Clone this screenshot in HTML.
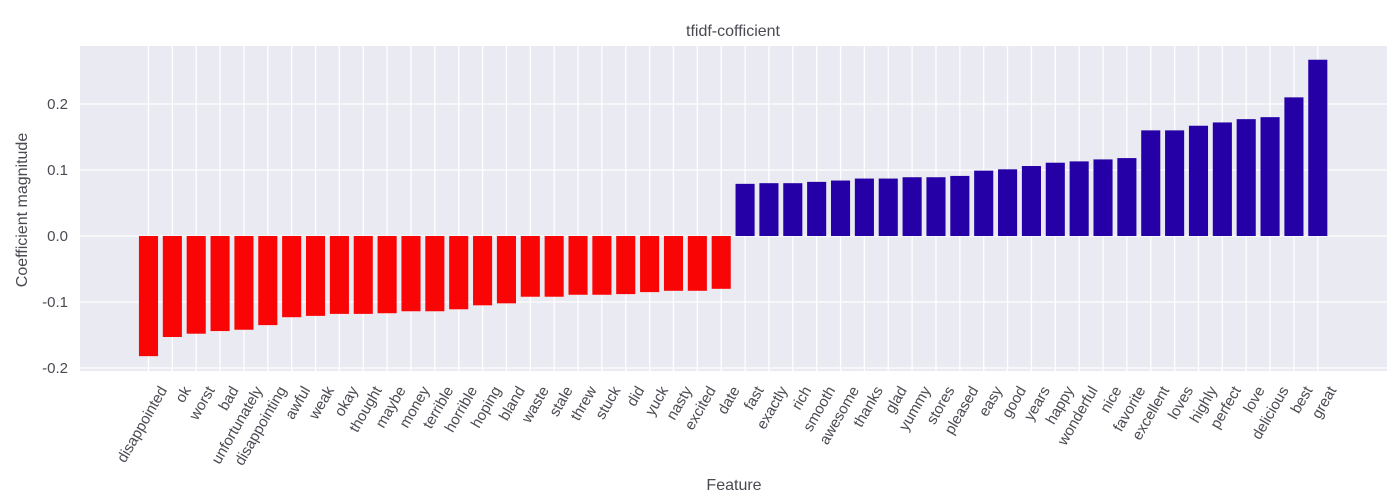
<!DOCTYPE html>
<html><head><meta charset="utf-8"><style>
html,body{margin:0;padding:0;background:#fff;}
svg{display:block;font-family:"Liberation Sans",sans-serif;}
</style></head><body>
<svg id="chart" width="1400" height="504" viewBox="0 0 1400 504" xmlns="http://www.w3.org/2000/svg">
<rect x="80" y="46" width="1307" height="325" fill="#eaeaf2"/>
<g id="grid"></g>
<g id="bars"></g>
<g id="yticks"></g>
<g id="xticks"></g>
<text x="733" y="36" text-anchor="middle" font-size="16" fill="#4a4a52">tfidf-cofficient</text>
<text x="734" y="490" text-anchor="middle" font-size="16" fill="#4a4a52">Feature</text>
<text transform="translate(27,210) rotate(-90)" text-anchor="middle" font-size="16" fill="#4a4a52">Coefficient magnitude</text>
</svg>
<script>
const features = ["disappointed","ok","worst","bad","unfortunately","disappointing","awful","weak","okay","thought","maybe","money","terrible","horrible","hoping","bland","waste","stale","threw","stuck","did","yuck","nasty","excited","date","fast","exactly","rich","smooth","awesome","thanks","glad","yummy","stores","pleased","easy","good","years","happy","wonderful","nice","favorite","excellent","loves","highly","perfect","love","delicious","best","great"];
const coefficients = [-0.182,-0.153,-0.148,-0.144,-0.142,-0.135,-0.123,-0.121,-0.118,-0.118,-0.117,-0.114,-0.114,-0.111,-0.105,-0.102,-0.092,-0.092,-0.089,-0.089,-0.088,-0.085,-0.083,-0.083,-0.080,0.079,0.080,0.080,0.082,0.084,0.087,0.087,0.089,0.089,0.091,0.099,0.101,0.106,0.111,0.113,0.116,0.118,0.160,0.160,0.167,0.172,0.177,0.180,0.210,0.267];
const yTickValues = [-0.2,-0.1,0.0,0.1,0.2];
const yTickLabels = ["-0.2","-0.1","0.0","0.1","0.2"];

const NS="http://www.w3.org/2000/svg";
const plotL=80, plotR=1387, plotT=46, plotB=371;
const xMin=-2.87, xMax=51.9, yMin=-0.2045, yMax=0.2878;
function xs(i){return plotL+(i-xMin)/(xMax-xMin)*(plotR-plotL);}
function ys(v){return plotB-(v-yMin)/(yMax-yMin)*(plotB-plotT);}
function mk(tag,attrs,parent){const e=document.createElementNS(NS,tag);for(const k in attrs)e.setAttribute(k,attrs[k]);parent.appendChild(e);return e;}
const grid=document.getElementById('grid'),bars=document.getElementById('bars'),yt=document.getElementById('yticks'),xt=document.getElementById('xticks');
yTickValues.forEach((v,k)=>{
  const l=mk('line',{x1:plotL,x2:plotR,y1:ys(v),y2:ys(v),stroke:'#fff','stroke-width':1.3},grid);
  
  
  const t=mk('text',{x:plotL-12,y:ys(v)+5,'text-anchor':'end','font-size':15,fill:'#4a4a52'},yt);
  t.textContent=yTickLabels[k];
  
  
});
const bw=0.8*(xs(1)-xs(0));
features.forEach((f,i)=>{
  const cx=xs(i);
  const g=mk('line',{x1:cx,x2:cx,y1:plotT,y2:plotB,stroke:'#fff','stroke-width':1.3},grid);
  
  
  const v=coefficients[i];
  const y0=ys(0),y1=ys(v);
  const r=mk('rect',{x:cx-bw/2,y:Math.min(y0,y1),width:bw,height:Math.abs(y1-y0),fill:v<0?'#fa0505':'#2500a6'},bars);
  
  
  const t=mk('text',{'text-anchor':'end','font-size':15,fill:'#4a4a52',transform:'translate('+(cx+19)+',390) rotate(-60)'},xt);
  t.textContent=f;
  
  
});
</script>
</body></html>
